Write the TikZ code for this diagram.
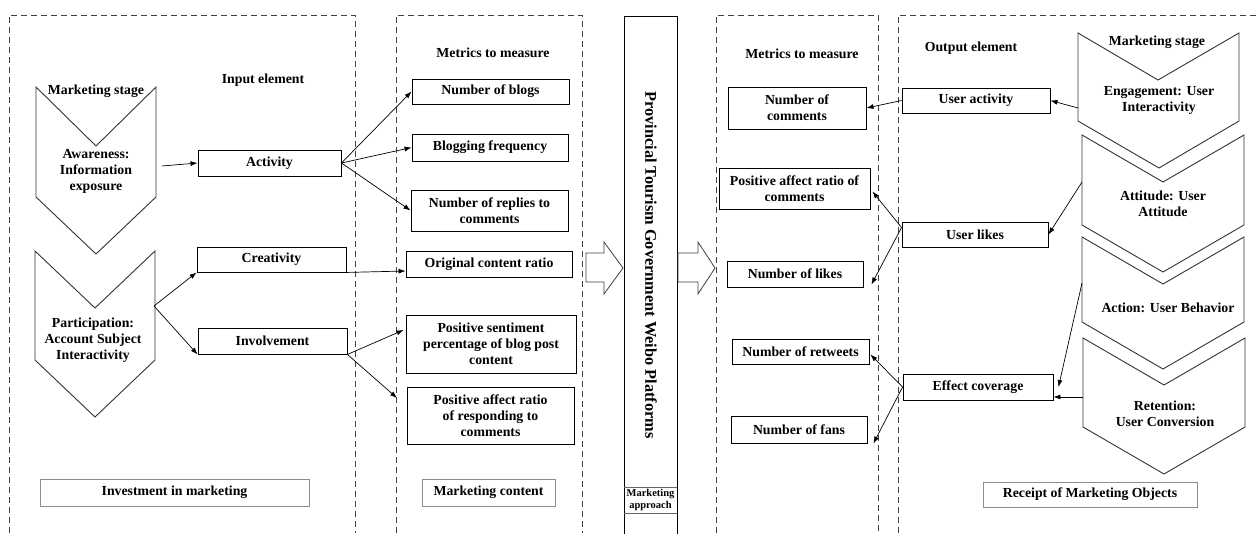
\documentclass[tikz,border=0pt]{standalone}
\usepackage{fontspec}
\setmainfont{Liberation Serif}
\usetikzlibrary{arrows.meta,calc}

\begin{document}
\begin{tikzpicture}[x=1pt, y=-1pt,
    every node/.style={font=\fontsize{13.8}{16}\selectfont\bfseries, align=center, inner sep=1pt},
    metric/.style={rectangle, draw=black, line width=0.9pt},
    tagbox/.style={rectangle, draw=black!45, line width=0.9pt},
    panel/.style={draw=black!75, line width=0.8pt, dash pattern=on 6pt off 4pt},
    stage/.style={draw=black!80, line width=0.9pt, fill=white},
    hollow/.style={draw=black!75, line width=0.8pt, fill=white},
    arrow/.style={-{Latex[length=7pt,width=5pt]}, line width=0.7pt}
]
    \useasboundingbox (0,0) rectangle (1260,533);
    \fill[white] (0,0) rectangle (1260,533);

    % dashed panels
    \draw[panel] (9,533) -- (9,15) -- (355,15) -- (355,533);
    \draw[panel] (396,533) -- (396,15) -- (582,15) -- (582,533);
    \draw[panel] (716,533) -- (716,15) -- (878,15) -- (878,533);
    \draw[panel] (898,533) -- (898,15) -- (1262,15);

    % input side stages
    \draw[stage] (36,87) -- (96,146) -- (156,87) -- (156,197) -- (96,254) -- (36,197) -- cycle;
    \draw[stage] (35,251) -- (95,308) -- (155,251) -- (155,360) -- (95,417) -- (35,360) -- cycle;
    \node (stage01) at (96,91) {Marketing stage};
    \node (aware01) at (96,171) {Awareness:\\Information\\exposure};
    \node (partic01) at (93,340) {Participation:\\Account Subject\\Interactivity};
    \coordinate (awareout01) at (162,166);
    \coordinate (particout01) at (154,306);

    \node (input01) at (263,80) {Input element};
    \node[metric, minimum width=143, minimum height=26] (activity01) at (269.5,163) {Activity};
    \node[metric, minimum width=149, minimum height=25] (creativity01) at (271.5,259.5) {Creativity};
    \node[metric, minimum width=149, minimum height=26] (involve01) at (272.5,341) {Involvement};
    \node[tagbox, minimum width=269, minimum height=27] (invest01) at (174.5,492.5) {Investment in marketing};

    % marketing content metrics
    \node (metrics01) at (493,53) {Metrics to measure};
    \node[metric, minimum width=157, minimum height=25] (blogs01) at (490.5,91.5) {Number of blogs};
    \node[metric, minimum width=156, minimum height=27] (freq01) at (490,147.5) {Blogging frequency};
    \node[metric, minimum width=157, minimum height=41] (replies01) at (489.5,210.5) {Number of replies to\\comments};
    \node[metric, minimum width=166, minimum height=26] (original01) at (489,264) {Original content ratio};
    \node[metric, minimum width=170, minimum height=58] (sentiment01) at (491,344) {Positive sentiment\\percentage of blog post\\content};
    \node[metric, minimum width=167, minimum height=57] (respond01) at (490.5,415.5) {Positive affect ratio\\of responding to\\comments};
    \node[tagbox, minimum width=133, minimum height=27] (content01) at (488.5,492.5) {Marketing content};
    \coordinate (respondin01) at (397,398);

    \draw[arrow] (awareout01) -- (activity01.west);
    \draw[arrow] (particout01) -- (creativity01.south west);
    \draw[arrow] (particout01) -- (involve01.south west);
    \draw[arrow] (activity01.east) -- (blogs01.west);
    \draw[arrow] (activity01.east) -- (freq01.west);
    \draw[arrow] (activity01.east) -- (replies01.west);
    \draw[arrow] (creativity01.south east) -- ($(original01.west)+(0,7)$);
    \draw[arrow] (involve01.south east) -- ($(sentiment01.west)+(-2,-14)$);
    \draw[arrow] (involve01.south east) -- (respondin01);

    % platform column
    \draw[hollow] (586,253) -- (604,253) -- (604,242) -- (623,268) -- (604,294) -- (604,282) -- (586,282) -- cycle;
    \draw[line width=0.9pt] (624,536) -- (624,16) -- (677,16) -- (677,536);
    \draw[line width=0.5pt, black!60] (624,487) -- (677,487) (624,513) -- (677,513);
    \node[rotate=-90, font=\fontsize{16.3}{19}\selectfont\bfseries] (weibo01) at (651,265) {Provincial Tourism Government Weibo Platforms};
    \node[font=\fontsize{10.5}{12.5}\selectfont\bfseries] (approach01) at (650.5,500) {Marketing\\approach};
    \draw[hollow] (678,253) -- (698,253) -- (698,242) -- (715,268) -- (698,294) -- (698,282) -- (678,282) -- cycle;

    % output side metrics
    \node (metrics02) at (802,54) {Metrics to measure};
    \node[metric, minimum width=138, minimum height=42] (comments01) at (797,108) {Number of\\comments};
    \node[metric, minimum width=151, minimum height=41] (affect01) at (794.5,188.5) {Positive affect ratio of\\comments};
    \node[metric, minimum width=136, minimum height=26] (likes01) at (795,274) {Number of likes};
    \node[metric, minimum width=137, minimum height=25] (retweets01) at (800.5,351.5) {Number of retweets};
    \node[metric, minimum width=136, minimum height=27] (fans01) at (799,429.5) {Number of fans};

    \node (output01) at (971,48) {Output element};
    \node[metric, minimum width=148, minimum height=25] (useract01) at (976,100.5) {User activity};
    \node[metric, minimum width=146, minimum height=25] (userlikes01) at (975,234.5) {User likes};
    \node[metric, minimum width=150, minimum height=26] (effect01) at (978,387) {Effect coverage};
    \node[tagbox, minimum width=214, minimum height=25] (receipt01) at (1090,494.5) {Receipt of Marketing Objects};

    % output side stages
    \draw[stage] (1078,33) -- (1158,80) -- (1239,33) -- (1239,121) -- (1159,168) -- (1078,121) -- cycle;
    \draw[stage] (1082,135) -- (1163,182) -- (1244,135) -- (1244,225) -- (1163,272) -- (1082,225) -- cycle;
    \draw[stage] (1082,237) -- (1163,284) -- (1244,237) -- (1244,322) -- (1163,369) -- (1082,322) -- cycle;
    \draw[stage] (1083,338) -- (1164,385) -- (1245,338) -- (1245,427) -- (1164,474) -- (1083,427) -- cycle;
    \node (stage02) at (1157,42) {Marketing stage};
    \node (engage01) at (1159,100) {Engagement: User\\Interactivity};
    \node (attitude01) at (1163,204) {Attitude: User\\Attitude};
    \node (action01) at (1168,308) {Action: User Behavior};
    \node (retain01) at (1165,414) {Retention:\\User Conversion};
    \coordinate (engageout01) at (1078,108);
    \coordinate (attitudeout01) at (1082,182);
    \coordinate (actionout01) at (1082,283);
    \coordinate (retainout01) at (1083,397);

    \draw[arrow] (engageout01) -- (useract01.east);
    \draw[arrow] (attitudeout01) -- (userlikes01.east);
    \draw[arrow] (actionout01) -- ($(effect01.east)+(5,0)$);
    \draw[arrow] (retainout01) -- ($(effect01.east)+(0,10)$);

    \draw[arrow] (useract01.west) -- (comments01.east);
    \draw[arrow] ($(userlikes01.west)+(0,-7)$) -- ($(affect01.east)+(2,3)$);
    \draw[arrow] ($(userlikes01.west)+(0,-7)$) -- ($(likes01.south east)+(8,-3)$);
    \draw[arrow] (effect01.west) -- ($(retweets01.east)+(1,3)$);
    \draw[arrow] (effect01.west) -- ($(fans01.south east)+(6,0)$);
\end{tikzpicture}
\end{document}
